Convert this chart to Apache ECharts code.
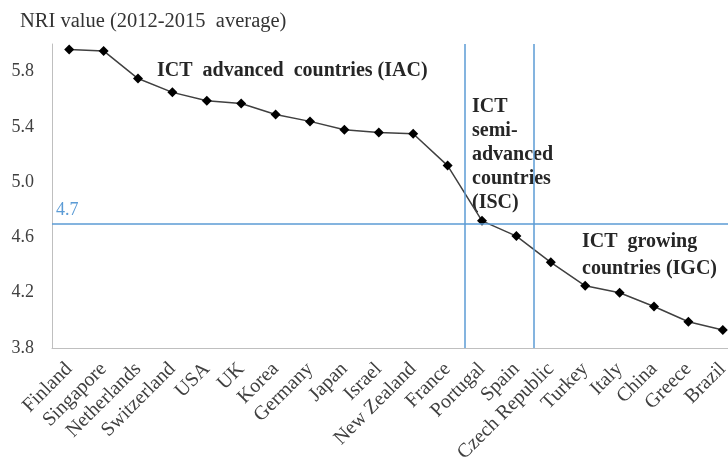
<!DOCTYPE html>
<html>
<head>
<meta charset="utf-8">
<script src="https://cdn.jsdelivr.net/npm/echarts@6/dist/echarts.min.js"></script>
<style>
  html, body { margin: 0; padding: 0; background: #fff; overflow: hidden; width: 728px; height: 469px; }
  /* the plot runs slightly past the right edge of the page, so the canvas is wider than the view */
  #chart { width: 740px; height: 469px; }
</style>
</head>
<body>
<div id="chart"></div>
<script>
// Networked Readiness Index, 2012-2015 average, by country
const countries = ['Finland', 'Singapore', 'Netherlands', 'Switzerland', 'USA', 'UK', 'Korea',
  'Germany', 'Japan', 'Israel', 'New Zealand', 'France', 'Portugal', 'Spain', 'Czech Republic',
  'Turkey', 'Italy', 'China', 'Greece', 'Brazil'];
const nriValues = [5.96, 5.95, 5.75, 5.65, 5.59, 5.57, 5.49, 5.44, 5.38, 5.36, 5.35, 5.12,
  4.72, 4.61, 4.42, 4.25, 4.20, 4.10, 3.99, 3.93];
const yTickLabels = ['3.8', '4.2', '4.6', '5.0', '5.4', '5.8'];
// Group boundaries, as positions between categories (France|Portugal, Spain|Czech Republic)
const groupBoundaries = [11.5, 13.5];
const threshold = 4.7;
const thresholdLabel = '4.7';

const serif = '"Liberation Serif", "Times New Roman", serif';
const blue = '#5b9bd5';
const boldText = 'bold 20px "Liberation Serif", "Times New Roman", serif';

const chart = echarts.init(document.getElementById('chart'), null, { renderer: 'canvas' });
chart.setOption({
  animation: false,
  backgroundColor: '#fff',
  textStyle: { fontFamily: serif },
  title: {
    text: 'NRI value (2012-2015  average)',
    left: 15, top: 6,
    textStyle: { fontFamily: serif, fontSize: 20.5, fontWeight: 'normal', color: '#333' }
  },
  grid: { left: 52, right: 0, top: 44, bottom: 121, containLabel: false },
  xAxis: [{
    type: 'category',
    data: countries,
    boundaryGap: true,
    axisLine: { lineStyle: { color: '#bfbfbf', width: 1 } },
    axisTick: { alignWithLabel: true, length: 5, lineStyle: { color: '#bfbfbf' } },
    axisLabel: { rotate: 45, interval: 0, margin: 18, fontFamily: serif, fontSize: 20, color: '#404040' }
  }, {
    type: 'value',
    min: -0.5, max: countries.length - 0.5,
    show: false
  }],
  yAxis: {
    type: 'value',
    min: 3.8, max: 6.0, interval: 0.2,
    axisLine: { show: true, onZero: false, lineStyle: { color: '#bfbfbf', width: 1 } },
    axisTick: { show: false },
    splitLine: { show: false },
    axisLabel: {
      margin: 18,
      fontFamily: serif, fontSize: 18, color: '#404040',
      formatter: v => yTickLabels.includes(v.toFixed(1)) ? v.toFixed(1) : ''
    }
  },
  series: [{
    type: 'line',
    data: nriValues,
    symbol: 'diamond',
    symbolSize: 10,
    itemStyle: { color: '#000' },
    lineStyle: { color: '#404040', width: 1.5 },
    markLine: {
      silent: true, symbol: 'none',
      lineStyle: { color: blue, width: 1.5, type: 'solid' },
      label: {
        position: 'insideStartTop', formatter: thresholdLabel,
        color: blue, fontFamily: serif, fontSize: 18, distance: [4, 4]
      },
      data: [{ yAxis: threshold }]
    }
  }, {
    type: 'line',
    xAxisIndex: 1,
    data: [],
    markLine: {
      silent: true, symbol: 'none',
      lineStyle: { color: blue, width: 1.5, type: 'solid' },
      label: { show: false },
      data: groupBoundaries.map(x => ({ xAxis: x }))
    }
  }],
  graphic: [{
    type: 'text', left: 157, top: 61,
    style: { text: 'ICT  advanced  countries (IAC)', font: boldText, fill: '#262626' }
  }, {
    type: 'text', left: 472, top: 95,
    style: { text: 'ICT\nsemi-\nadvanced\ncountries\n(ISC)', font: boldText, lineHeight: 24, fill: '#262626' }
  }, {
    type: 'text', left: 582, top: 228,
    style: { text: 'ICT  growing\ncountries (IGC)', font: boldText, lineHeight: 27, fill: '#262626' }
  }]
});
</script>
</body>
</html>
